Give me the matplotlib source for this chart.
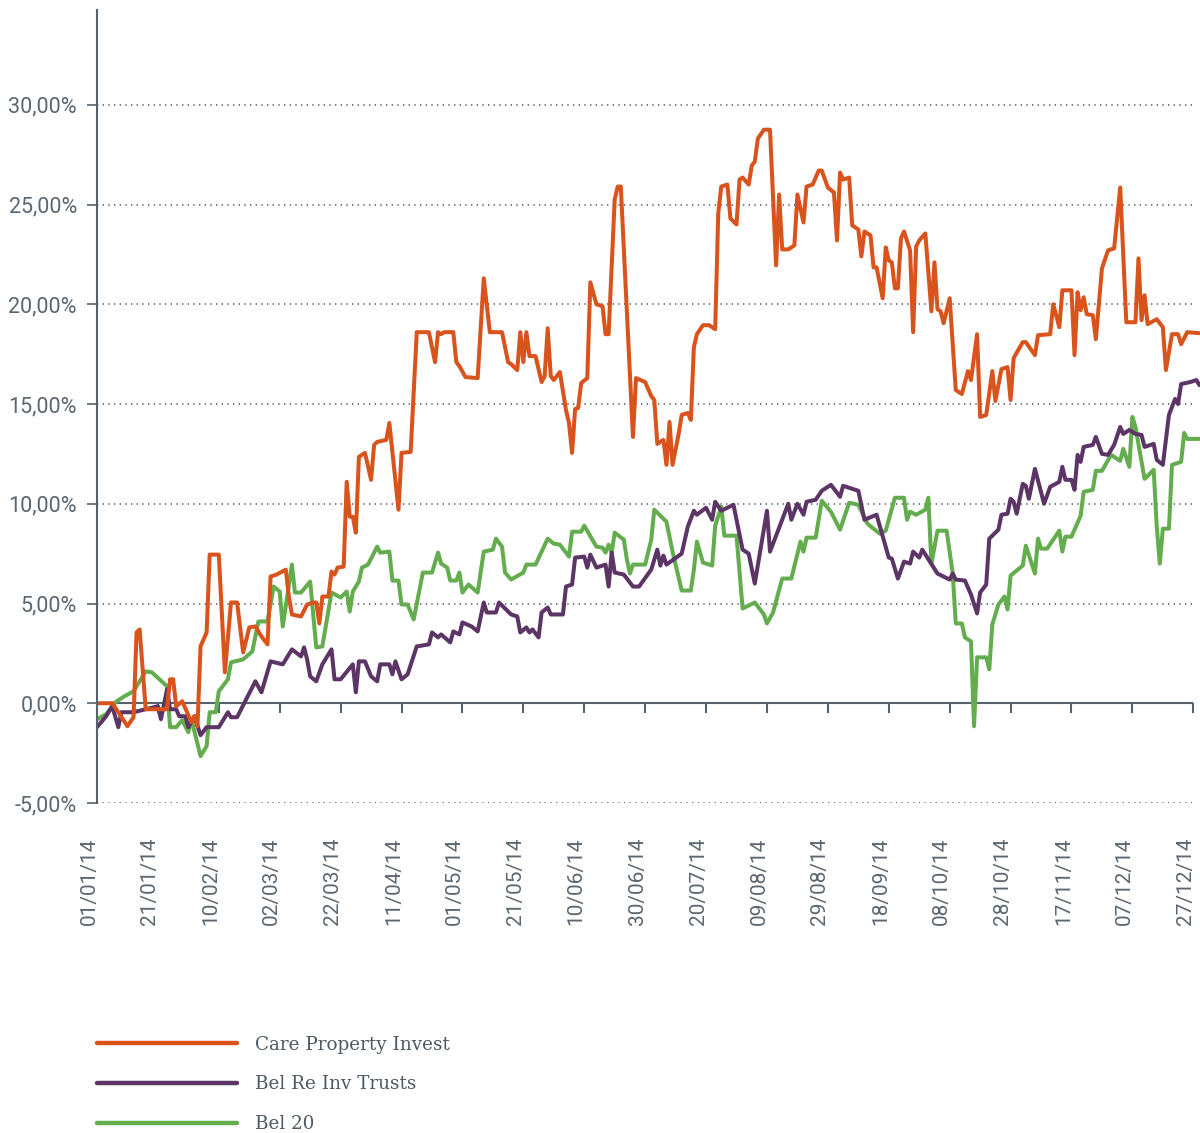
import pandas as pd
import matplotlib.pyplot as plt
import matplotlib.transforms as mtransforms
from matplotlib.lines import Line2D

start = pd.Timestamp('2014-01-01')

# days since 01/01/14 and relative performance in %
cpi_days = [0, 5, 7, 10, 12, 13, 14, 16, 20, 23, 24, 25, 26, 28, 31, 32, 33, 34, 36, 37, 40, 42, 44, 46, 48,
            50, 52, 54, 56, 57, 59, 62, 63, 64, 67, 69, 71, 72, 73, 74, 76, 77, 78, 79, 81, 82, 83, 84, 85, 86,
            88, 90, 91, 92, 95, 96, 99, 100, 103, 105, 109, 111, 112, 113, 114, 117, 118, 119, 121, 125, 127,
            129, 133, 135, 136, 138, 139, 140, 141, 142, 144, 146, 147, 148, 149, 150, 152, 154, 155, 156, 157,
            158, 159, 161, 162, 164, 166, 167, 168, 170, 171, 172, 176, 177, 180, 182, 183, 184, 186, 187, 188,
            189, 191, 192, 194, 195, 196, 197, 199, 201, 203, 204, 205, 207, 208, 210, 211, 212, 214, 215, 216,
            217, 219, 221, 223, 224, 225, 227, 229, 230, 232, 233, 235, 237, 238, 240, 242, 243, 244, 245, 247,
            248, 250, 251, 252, 254, 255, 256, 258, 259, 260, 261, 262, 263, 264, 265, 267, 268, 269, 270, 272,
            274, 275, 276, 277, 278, 280, 282, 284, 286, 287, 289, 290, 292, 294, 295, 297, 299, 300, 301, 304,
            305, 308, 309, 313, 314, 316, 317, 320, 321, 322, 323, 324, 325, 327, 328, 330, 332, 334, 336, 338,
            341, 342, 343, 344, 345, 348, 350, 351, 353, 355, 356, 358, 362]
cpi_vals = [0, 0, -0.45, -1.15, -0.7, 3.55, 3.7, -0.3, -0.3, -0.3, 1.2, 1.2, -0.15, 0.1, -0.95, -0.65, -1.15,
            2.85, 3.55, 7.45, 7.45, 1.55, 5.05, 5.05, 2.55, 3.8, 3.85, 3.35, 2.95, 6.35, 6.45, 6.7, 5.35, 4.45,
            4.35, 4.95, 5.05, 5.05, 4.0, 5.35, 5.35, 6.6, 6.45, 6.8, 6.85, 11.1, 9.35, 9.35, 8.55, 12.35, 12.55,
            11.2, 12.95, 13.1, 13.2, 14.05, 9.7, 12.55, 12.6, 18.6, 18.6, 17.1, 18.6, 18.5, 18.6, 18.6, 17.1,
            16.9, 16.35, 16.3, 21.3, 18.6, 18.6, 17.1, 17.0, 16.7, 18.6, 17.1, 18.6, 17.4, 17.4, 16.1, 16.4,
            18.8, 16.4, 16.2, 16.6, 14.7, 14.05, 12.55, 14.75, 14.8, 16.05, 16.3, 21.1, 20.0, 19.9, 18.5, 18.5,
            25.25, 25.9, 25.9, 13.35, 16.3, 16.1, 15.4, 15.2, 13.0, 13.2, 11.95, 14.1, 11.95, 13.5, 14.45,
            14.55, 14.2, 17.85, 18.5, 18.95, 18.95, 18.75, 24.55, 25.9, 26.0, 24.3, 24.0, 26.25, 26.35, 26.0,
            26.95, 27.15, 28.3, 28.75, 28.75, 21.95, 25.5, 22.75, 22.75, 22.95, 25.5, 24.1, 25.9, 26.0, 26.7,
            26.7, 25.85, 25.6, 23.2, 26.6, 26.25, 26.35, 23.95, 23.75, 22.4, 23.65, 23.45, 21.85, 21.85, 20.3,
            22.85, 22.2, 22.1, 20.8, 20.8, 23.3, 23.65, 22.7, 18.6, 22.9, 23.2, 23.55, 19.65, 22.1, 19.75,
            19.65, 19.05, 20.3, 15.7, 15.5, 16.65, 16.2, 18.5, 14.35, 14.45, 16.65, 15.15, 16.75, 16.85, 15.2,
            17.3, 18.1, 18.1, 17.45, 18.45, 18.5, 20.0, 18.85, 20.7, 20.7, 17.45, 20.6, 19.7, 20.35, 19.5,
            19.45, 18.25, 21.8, 22.7, 22.8, 25.85, 19.1, 19.1, 22.3, 19.2, 20.45, 19.0, 19.25, 18.85, 16.7,
            18.5, 18.5, 18.0, 18.6, 18.55]

reit_days = [0, 3, 5, 7, 8, 12, 16, 20, 21, 23, 24, 26, 27, 29, 30, 32, 34, 36, 40, 43, 44, 46, 52, 54, 57,
             61, 64, 67, 68, 69, 70, 72, 74, 77, 78, 80, 84, 85, 86, 88, 90, 92, 93, 96, 97, 98, 100, 102, 105,
             109, 110, 112, 113, 116, 117, 119, 120, 123, 125, 127, 128, 131, 132, 136, 138, 139, 141, 142, 143,
             145, 146, 148, 149, 153, 154, 156, 157, 160, 161, 162, 164, 167, 168, 169, 170, 173, 176, 178, 182,
             183, 184, 185, 186, 187, 192, 194, 196, 197, 200, 202, 203, 205, 209, 212, 214, 216, 220, 221, 227,
             228, 230, 232, 233, 236, 238, 241, 244, 245, 250, 252, 256, 260, 261, 263, 265, 267, 268, 270, 271,
             276, 280, 281, 282, 285, 287, 289, 290, 292, 293, 295, 296, 297, 299, 300, 301, 302, 304, 305, 306,
             308, 311, 313, 316, 317, 318, 320, 321, 322, 323, 324, 327, 328, 330, 332, 334, 336, 337, 339, 341,
             343, 344, 346, 347, 348, 350, 352, 354, 355, 356, 359, 361, 362]
reit_vals = [-1.2, -0.65, -0.15, -1.2, -0.45, -0.45, -0.3, -0.15, -0.8, 0.7, -0.3, -0.3, -0.65, -0.65, -1.2,
             -0.65, -1.6, -1.2, -1.2, -0.45, -0.7, -0.7, 1.1, 0.55, 2.1, 1.95, 2.7, 2.35, 2.8, 2.2, 1.35, 1.1,
             1.95, 2.7, 1.2, 1.2, 1.95, 0.55, 2.1, 2.1, 1.35, 1.1, 1.95, 1.95, 1.45, 2.1, 1.2, 1.45, 2.85, 2.95,
             3.55, 3.3, 3.45, 3.05, 3.6, 3.45, 4.05, 3.85, 3.6, 5.05, 4.55, 4.55, 5.05, 4.45, 4.35, 3.55, 3.8,
             3.55, 3.7, 3.3, 4.55, 4.8, 4.45, 4.45, 5.85, 5.95, 7.3, 7.35, 6.8, 7.45, 6.8, 6.95, 5.85, 7.55,
             6.55, 6.45, 5.85, 5.85, 6.7, 7.2, 7.7, 6.9, 7.4, 6.95, 7.5, 8.85, 9.65, 9.45, 9.8, 9.2, 10.1, 9.65,
             9.95, 7.7, 7.5, 6.0, 9.65, 7.6, 10.0, 9.2, 10.0, 9.45, 10.1, 10.2, 10.65, 10.95, 10.35, 10.9,
             10.65, 9.2, 9.45, 7.3, 7.25, 6.25, 7.1, 7.0, 7.6, 7.3, 7.7, 6.5, 6.2, 6.5, 6.2, 6.15, 5.45, 4.5,
             5.55, 5.95, 8.25, 8.55, 8.7, 9.45, 9.5, 10.25, 10.1, 9.5, 11.0, 10.9, 10.25, 11.75, 10.0, 10.85,
             11.1, 11.85, 11.2, 11.2, 10.7, 12.45, 12.1, 12.85, 12.95, 13.35, 12.5, 12.45, 12.95, 13.85, 13.5,
             13.7, 13.5, 13.45, 12.85, 12.95, 13.0, 12.2, 11.95, 14.45, 15.25, 15.0, 16.0, 16.1, 16.2, 15.95]

bel20_days = [0, 3, 6, 9, 12, 16, 18, 23, 24, 26, 28, 30, 31, 34, 36, 37, 39, 40, 43, 44, 48, 51, 53, 56, 58,
              60, 61, 64, 65, 67, 70, 72, 74, 77, 80, 82, 83, 84, 86, 87, 89, 92, 93, 96, 97, 99, 100, 102, 104,
              107, 110, 112, 113, 115, 116, 118, 119, 120, 122, 125, 127, 130, 131, 133, 134, 136, 140, 141, 144,
              148, 150, 152, 155, 156, 159, 160, 164, 166, 167, 168, 169, 170, 173, 174, 175, 176, 180, 182, 183,
              187, 189, 192, 195, 196, 197, 199, 202, 203, 205, 206, 210, 212, 216, 219, 220, 222, 225, 228, 231,
              232, 233, 236, 238, 241, 244, 247, 250, 253, 257, 259, 262, 265, 266, 267, 269, 272, 273, 274, 276,
              279, 281, 282, 284, 285, 287, 288, 289, 292, 293, 294, 296, 298, 299, 300, 304, 305, 308, 309, 310,
              312, 316, 317, 318, 320, 323, 324, 327, 328, 330, 333, 336, 337, 339, 340, 341, 344, 347, 348, 349,
              350, 352, 353, 356, 357, 358, 362]
bel20_vals = [-0.8, -0.55, 0.05, 0.35, 0.6, 1.6, 1.55, 0.85, -1.2, -1.2, -0.85, -1.45, -0.8, -2.65, -2.15,
              -0.45, -0.45, 0.6, 1.2, 2.05, 2.2, 2.6, 4.1, 4.1, 5.85, 5.6, 3.85, 6.95, 5.55, 5.55, 6.1, 2.8, 2.85,
              5.55, 5.3, 5.6, 4.6, 5.6, 6.1, 6.8, 6.95, 7.85, 7.55, 7.6, 6.15, 6.15, 4.95, 4.95, 4.2, 6.55, 6.55,
              7.55, 7.0, 6.8, 6.15, 6.15, 6.55, 5.55, 5.95, 5.55, 7.6, 7.7, 8.25, 7.85, 6.55, 6.2, 6.55, 6.95,
              6.95, 8.25, 8.0, 7.95, 7.35, 8.6, 8.6, 8.9, 7.85, 7.8, 7.55, 7.95, 7.55, 8.55, 8.2, 7.2, 6.5, 6.95,
              6.95, 8.2, 9.7, 9.1, 7.6, 5.65, 5.65, 6.7, 8.1, 7.05, 6.9, 8.9, 9.85, 8.4, 8.4, 4.75, 5.05, 4.45,
              4.0, 4.55, 6.25, 6.25, 8.1, 7.6, 8.3, 8.3, 10.15, 9.6, 8.7, 10.05, 9.95, 9.0, 8.5, 8.65, 10.3,
              10.3, 9.2, 9.6, 9.45, 9.7, 10.3, 7.0, 8.65, 8.65, 6.5, 4.0, 4.0, 3.3, 3.1, -1.15, 2.3, 2.3, 1.7,
              3.95, 4.95, 5.35, 4.7, 6.4, 6.9, 7.9, 6.5, 8.25, 7.75, 7.75, 8.65, 7.6, 8.35, 8.35, 9.4, 10.6,
              10.7, 11.65, 11.65, 12.45, 12.15, 12.75, 11.85, 14.35, 13.85, 11.25, 11.7, 8.85, 7.0, 8.75, 8.75,
              11.95, 12.1, 13.55, 13.25, 13.25]

names = ['Care Property Invest', 'Bel Re Inv Trusts', 'Bel 20']
colors = ['#d9531c', '#5c3566', '#63ad4e']
y_ticks = [-5, 0, 5, 10, 15, 20, 25, 30]

grey = '#55626c'
text_grey = '#5a6670'

fig = plt.figure(figsize=(12, 11.33), dpi=100)
ax = fig.add_axes([97 / 1200, 1 - 803 / 1133, 1 - 97 / 1200, (803 - 10) / 1133])


def to_dates(days):
    return start + pd.to_timedelta(days, unit='D')


series = [(cpi_days, cpi_vals), (reit_days, reit_vals), (bel20_days, bel20_vals)]
# draw in reverse so the orange line sits on top
for (d, v), c in reversed(list(zip(series, colors))):
    ax.plot(to_dates(d), v, color=c, lw=2.9, solid_joinstyle='round', solid_capstyle='round')
handles = [Line2D([], [], color=c, lw=3.2, solid_capstyle='round', label=n) for c, n in zip(colors, names)]

tick_dates = pd.date_range(start, '2014-12-31', freq='20D')
grid_end = tick_dates[-1]

for y in y_ticks:
    if y == 0:
        continue
    ax.hlines(y, start, grid_end, color=grey, lw=1.2, linestyles=(0, (0.8, 2.6)), zorder=0)
ax.hlines(0, start, grid_end, color=grey, lw=1.5, zorder=0.5)
ax.vlines(tick_dates[1:], -0.5, 0, color=grey, lw=1.5, zorder=0.5)

ax.set_xlim(start, start + pd.Timedelta(days=362.2))
ax.set_ylim(-5, 34.75)

ax.set_yticks(y_ticks)
ax.set_yticklabels([f'{y:.2f}%'.replace('.', ',') for y in y_ticks])
ax.set_xticks(tick_dates)
ax.set_xticklabels([t.strftime('%d/%m/%y') for t in tick_dates], rotation=90)

ax.tick_params(axis='y', length=7.5, width=1.2, color=grey, pad=7, labelsize=15.5, labelcolor=text_grey)
ax.tick_params(axis='x', length=0, pad=25, labelsize=15, labelcolor=text_grey)
shift = mtransforms.ScaledTranslation(-8 / 100, 0, fig.dpi_scale_trans)
for lab in ax.get_xticklabels():
    lab.set_transform(lab.get_transform() + shift)
for lab in ax.get_xticklabels() + ax.get_yticklabels():
    lab.set_fontfamily('Roboto')

for s in ['top', 'right', 'bottom']:
    ax.spines[s].set_visible(False)
ax.spines['left'].set_color(grey)
ax.spines['left'].set_linewidth(1.5)

fig.legend(handles=handles, loc='upper left', bbox_to_anchor=(80 / 1200, 1 - 1019 / 1133),
           frameon=False, handlelength=7.65, handletextpad=0.98, labelspacing=1.19,
           prop={'family': 'DejaVu Serif', 'size': 13.2}, labelcolor='#4d5963')

fig.savefig('out.png', dpi=100)
